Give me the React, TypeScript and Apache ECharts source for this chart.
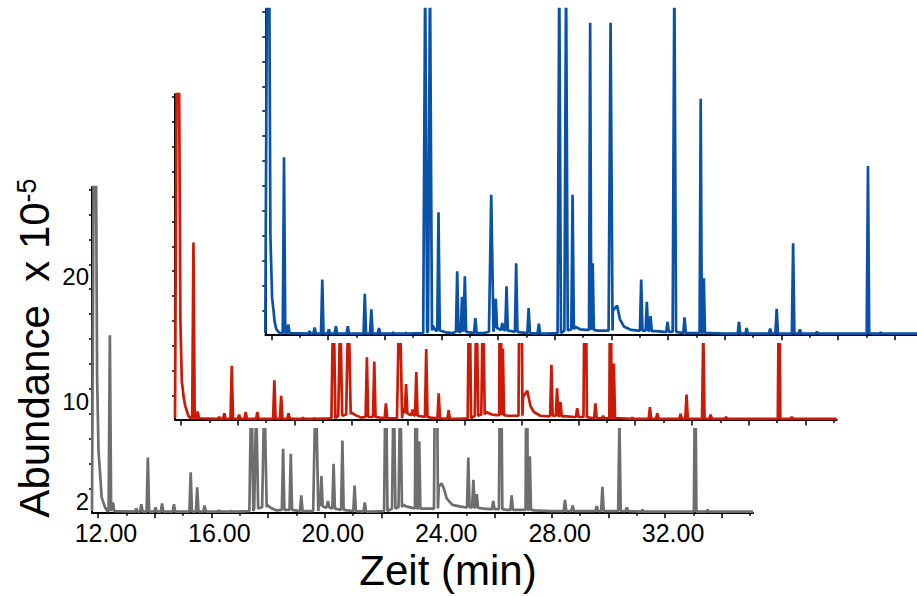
import React, { useEffect, useRef } from "react";
import * as echarts from "echarts";

// ---- axis settings (minutes, abundance x 10^-5) ----
const TIME_MIN = 11.79;
const TIME_MAX = 35.1;
const TIME_MAX_BACK = 34.78; // back chart runs off the right edge of the picture
const ABUND_MIN = 1.1;
const ABUND_MAX = 27.2;
const X_LABELS = [12, 16, 20, 24, 28, 32];
const X_MAJOR_TICKS = [12, 14, 16, 18, 20, 22, 24, 26, 28, 30, 32, 34];
const X_MINOR_TICKS = [13, 15, 17, 19, 21, 23, 25, 27, 29, 31, 33, 35];
const Y_LABELS = [2, 10, 20];
const Y_TICKS = [3, 5, 7, 9, 11, 13, 15, 17, 19, 21, 23, 25, 27];

// ---- grey trace (front) : peaks [time, apex, base, halfWidth?] and baseline knots [time, value] ----
const greyPeaks = [
  [12.42, 15.3, 1.2], [12.53, 1.9, 1.2], [13.35, 1.4, 1.15], [13.53, 1.75, 1.15], [13.76, 5.5, 1.15],
  [14.03, 1.5, 1.15], [14.26, 1.8, 1.15], [14.68, 1.75, 1.15], [15.27, 4.3, 1.15], [15.5, 3.1, 1.15],
  [15.76, 1.65, 1.15], [16.26, 1.25, 1.15], [16.7, 1.2, 1.15], [17.41, 12, 1.2, 0.07], [17.58, 10, 1.4, 0.07],
  [17.87, 11, 1.5, 0.08], [18.53, 6.2, 1.3], [18.8, 5.8, 1.3], [19.17, 2.45, 1.2], [19.68, 12, 1.2, 0.09],
  [19.88, 4.0, 1.6], [20.11, 2.0, 1.5], [20.31, 5.0, 1.4], [20.62, 6.85, 1.3], [21.05, 3.25, 1.2],
  [21.41, 1.9, 1.15], [22.15, 14, 1.2, 0.06], [22.43, 12, 1.4, 0.06], [22.66, 12, 1.5, 0.06],
  [23.22, 26, 1.4, 0.04], [23.33, 6.8, 1.4, 0.04], [23.92, 26, 1.4, 0.07], [25.06, 5.5, 1.5],
  [25.24, 3.7, 1.5], [25.36, 2.55, 1.45], [25.94, 2.0, 1.35], [26.2, 20, 1.35, 0.06], [26.59, 2.45, 1.3],
  [27.12, 20, 1.3, 0.04], [27.23, 5.6, 1.3, 0.04], [28.47, 2.1, 1.2], [28.74, 1.65, 1.2], [29.59, 1.6, 1.2],
  [29.79, 3.15, 1.2], [30.39, 8.4, 1.2], [30.65, 1.5, 1.2], [31.2, 1.3, 1.15], [33.06, 14.5, 1.15],
  [33.5, 1.3, 1.15],
];
const greyBase = [
  [11.79, 1.2], [11.85, 30], [11.93, 30], [11.97, 12], [12.02, 6], [12.07, 4.4], [12.13, 2.3], [12.25, 1.5],
  [12.33, 1.2], [16.9, 1.15], [17.96, 1.7], [18.1, 1.45], [18.3, 1.25], [19.5, 1.2], [19.8, 2.2], [20.0, 1.5],
  [20.2, 1.45], [20.45, 1.35], [20.8, 1.25], [21.7, 1.15], [22.75, 1.7], [22.9, 1.55], [23.1, 1.45],
  [23.5, 1.4], [23.8, 1.4], [24.02, 3.2], [24.12, 3.4], [24.2, 3.0], [24.3, 2.2], [24.5, 1.7], [24.8, 1.55],
  [24.98, 1.5], [25.6, 1.4], [25.85, 1.35], [26.05, 1.35], [26.4, 1.3], [26.8, 1.3], [27.4, 1.25],
  [28.0, 1.2], [31.6, 1.15], [35.1, 1.15],
];

// ---- red trace (middle) ----
const redPeaks = [
  [12.44, 15.3, 1.2], [12.59, 1.75, 1.2], [13.35, 1.3, 1.15], [13.53, 1.6, 1.15], [13.79, 5.4, 1.15],
  [14.05, 1.5, 1.15], [14.28, 1.7, 1.15], [14.69, 1.7, 1.15], [15.29, 4.25, 1.15], [15.53, 3.0, 1.15],
  [15.79, 1.6, 1.15], [16.3, 1.25, 1.15], [16.7, 1.2, 1.15], [17.37, 12, 1.2, 0.07], [17.61, 10, 1.4, 0.07],
  [17.9, 11, 1.5, 0.08], [18.55, 6.1, 1.3], [18.81, 5.75, 1.3], [19.22, 2.4, 1.2], [19.7, 12, 1.2, 0.09],
  [19.93, 3.95, 1.6], [20.16, 1.9, 1.45], [20.29, 4.9, 1.4], [20.64, 6.75, 1.3], [21.08, 3.2, 1.2],
  [21.43, 1.85, 1.15], [22.16, 14, 1.2, 0.06], [22.41, 12, 1.4, 0.06], [22.64, 12, 1.5, 0.06],
  [23.25, 26, 1.45, 0.04], [23.34, 6.8, 1.45, 0.04], [23.96, 26, 1.4, 0.07], [25.05, 5.5, 1.4],
  [25.25, 3.6, 1.4], [25.37, 2.5, 1.35], [25.96, 2.0, 1.3], [26.24, 20, 1.3, 0.06], [26.6, 2.4, 1.2],
  [26.87, 1.4, 1.2], [27.13, 20, 1.2, 0.04], [27.25, 5.6, 1.2, 0.04], [27.9, 1.25, 1.15], [28.52, 2.1, 1.15],
  [28.78, 1.6, 1.15], [29.6, 1.55, 1.15], [29.81, 3.1, 1.15], [30.4, 8.4, 1.15], [30.66, 1.5, 1.15],
  [31.2, 1.3, 1.15], [33.07, 14.5, 1.15], [33.52, 1.3, 1.15],
];
const redBase = [
  [11.79, 1.2], [11.85, 30], [11.93, 30], [11.98, 9], [12.03, 4.2], [12.1, 2.8], [12.15, 2.2], [12.26, 1.4],
  [12.34, 1.2], [17.98, 1.7], [18.15, 1.45], [18.35, 1.25], [19.5, 1.2], [19.82, 2.0], [20.05, 1.5],
  [20.22, 1.45], [20.47, 1.35], [20.8, 1.25], [21.7, 1.15], [22.75, 1.7], [22.95, 1.5], [23.12, 1.45],
  [23.5, 1.4], [23.84, 1.4], [24.05, 2.9], [24.2, 3.4], [24.31, 2.2], [24.43, 1.7], [24.66, 1.4],
  [24.95, 1.35], [25.6, 1.35], [25.85, 1.3], [26.08, 1.3], [26.4, 1.25], [26.75, 1.2], [27.5, 1.2],
  [28.0, 1.15], [35.1, 1.15],
];

// ---- blue trace (back) ----
const bluePeaks = [
  [12.45, 15.3, 1.2], [12.6, 1.9, 1.2], [13.35, 1.35, 1.15], [13.53, 1.65, 1.15], [13.8, 5.5, 1.15],
  [14.03, 1.5, 1.15], [14.28, 1.75, 1.15], [14.7, 1.75, 1.15], [15.3, 4.35, 1.15], [15.53, 3.1, 1.15],
  [15.8, 1.6, 1.15], [16.3, 1.25, 1.15], [16.75, 1.2, 1.15], [17.43, 30, 1.2, 0.07], [17.6, 30, 1.4, 0.07],
  [17.9, 10.9, 1.4], [18.28, 1.25, 1.2], [18.56, 6.15, 1.3], [18.73, 4.1, 1.3], [18.83, 5.75, 1.3],
  [19.2, 2.4, 1.2], [19.76, 12.3, 1.3, 0.08], [19.92, 3.95, 1.6], [20.15, 2.0, 1.45], [20.3, 4.95, 1.4],
  [20.64, 6.8, 1.3], [21.08, 3.2, 1.2], [21.44, 1.95, 1.15], [22.16, 30, 1.2, 0.06], [22.4, 30, 1.4, 0.06],
  [22.63, 12.3, 1.5], [23.25, 26.1, 1.45, 0.04], [23.34, 6.8, 1.45, 0.04], [23.97, 26.1, 1.4, 0.07],
  [25.05, 5.5, 1.4], [25.25, 3.7, 1.4], [25.38, 2.55, 1.35], [25.98, 2.1, 1.3], [26.22, 30, 1.3, 0.06],
  [26.58, 2.45, 1.2], [27.15, 20.0, 1.2, 0.04], [27.26, 5.6, 1.2, 0.04], [28.5, 2.1, 1.15], [28.77, 1.6, 1.15],
  [29.6, 1.55, 1.15], [29.83, 3.15, 1.15], [30.41, 8.4, 1.15], [30.65, 1.5, 1.15], [31.25, 1.3, 1.15],
  [33.05, 14.6, 1.15], [33.5, 1.25, 1.15],
];
const blueBase = [
  [11.79, 1.2], [11.85, 30], [11.93, 30], [11.97, 9], [12.03, 4], [12.08, 3], [12.12, 2.1], [12.18, 1.5],
  [12.3, 1.2], [17.7, 1.8], [17.8, 1.4], [18.1, 1.3], [18.4, 1.2], [19.5, 1.2], [19.86, 2.0], [20.05, 1.5],
  [20.22, 1.45], [20.47, 1.35], [20.8, 1.25], [21.7, 1.15], [22.72, 1.7], [22.9, 1.5], [23.1, 1.45],
  [23.5, 1.4], [23.85, 1.4], [24.05, 3.0], [24.2, 3.4], [24.3, 2.3], [24.45, 1.7], [24.7, 1.45],
  [24.95, 1.4], [25.6, 1.35], [25.85, 1.3], [26.08, 1.3], [26.4, 1.25], [26.8, 1.2], [27.5, 1.2],
  [28.0, 1.15], [35.1, 1.15],
];

const DEFAULT_HALF_WIDTH = 0.045;

function buildTrace(peaks: number[][], base: number[][]) {
  const pts: number[][] = base.map((b) => [b[0], b[1]]);
  for (const p of peaks) {
    const hw = p[3] ?? DEFAULT_HALF_WIDTH;
    pts.push([p[0] - hw, p[2]], [p[0], p[1]], [p[0] + hw, p[2]]);
  }
  pts.sort((a, b) => a[0] - b[0]);
  return pts;
}

const FONT = "'Liberation Sans', Arial, Helvetica, sans-serif";

export default function App() {
  const ref = useRef<HTMLDivElement>(null);
  useEffect(() => {
    if (!ref.current) return;
    const chart = echarts.init(ref.current, null, { renderer: "svg" });

    const grids = [
      { left: 92, top: 187, width: 661, height: 325.3 },
      { left: 175, top: 94.2, width: 661.7, height: 325.3 },
      { left: 265.3, top: 9, width: 651.7, height: 325.3 },
    ];
    const timeMax = [TIME_MAX, TIME_MAX, TIME_MAX_BACK];
    const zAxis = [0, 4, 7];
    const zSeries = [2, 5, 8];
    const colors = ["#6e6e6e", "#cc1a06", "#0a52a8"];
    const traces = [
      buildTrace(greyPeaks, greyBase),
      buildTrace(redPeaks, redBase),
      buildTrace(bluePeaks, blueBase),
    ];

    const xAxes: any[] = [];
    const yAxes: any[] = [];
    grids.forEach((_, i) => {
      xAxes.push({
        type: "value",
        gridIndex: i,
        position: "bottom",
        min: TIME_MIN,
        max: timeMax[i],
        z: zAxis[i],
        axisLine: { show: true, onZero: false, lineStyle: { color: "#000", width: 2 } },
        axisTick: { show: true, customValues: X_MAJOR_TICKS, length: 6, lineStyle: { color: "#000", width: 1.5 } },
        axisLabel: {
          show: i === 0,
          customValues: X_LABELS,
          formatter: (v: number) => v.toFixed(2),
          fontSize: 25,
          fontFamily: FONT,
          color: "#000",
          margin: 8,
          padding: [0, 0, 0, 16],
        },
        splitLine: { show: false },
      });
      xAxes.push({
        type: "value",
        gridIndex: i,
        position: "bottom",
        min: TIME_MIN,
        max: timeMax[i],
        z: zAxis[i],
        axisLine: { show: false, onZero: false },
        axisTick: {
          show: true,
          customValues: X_MINOR_TICKS.filter((v) => v <= timeMax[i]),
          length: 3.5,
          lineStyle: { color: "#000", width: 1.5 },
        },
        axisLabel: { show: false },
        splitLine: { show: false },
      });
      yAxes.push({
        type: "value",
        gridIndex: i,
        position: "left",
        min: ABUND_MIN,
        max: ABUND_MAX,
        z: zAxis[i],
        axisLine: { show: true, onZero: false, lineStyle: { color: "#000", width: 2 } },
        axisTick: { show: true, customValues: Y_TICKS, length: 3, lineStyle: { color: "#000", width: 1.5 } },
        axisLabel: {
          show: i === 0,
          customValues: Y_LABELS,
          fontSize: 24,
          fontFamily: FONT,
          color: "#000",
          margin: 3,
        },
        splitLine: { show: false },
      });
    });

    const option: any = {
      animation: false,
      backgroundColor: "#ffffff",
      grid: grids.map((g) => ({ ...g, containLabel: false })),
      xAxis: xAxes,
      yAxis: yAxes,
      series: traces.map((data, i) => ({
        type: "line",
        xAxisIndex: i * 2,
        yAxisIndex: i,
        data,
        showSymbol: false,
        symbol: "none",
        clip: true,
        z: zSeries[i],
        lineStyle: { color: colors[i], width: 2.7 },
      })),
      graphic: [
        { type: "rect", z: 3, silent: true, shape: { x: 174, y: 0, width: 680, height: 428 }, style: { fill: "#ffffff" } },
        { type: "rect", z: 6, silent: true, shape: { x: 264, y: 0, width: 660, height: 343 }, style: { fill: "#ffffff" } },
        {
          type: "text",
          z: 10,
          x: 34,
          y: 348,
          rotation: Math.PI / 2,
          style: {
            text: "{a|Abundance  x 10}{b|-5}",
            align: "center",
            verticalAlign: "middle",
            fill: "#000",
            rich: {
              a: { fontSize: 42, fontFamily: FONT, fill: "#000" },
              b: { fontSize: 27, fontFamily: FONT, fill: "#000", verticalAlign: "top" },
            },
          },
        },
        {
          type: "text",
          z: 10,
          x: 448,
          y: 570,
          style: {
            text: "Zeit (min)",
            fontSize: 42,
            fontFamily: FONT,
            align: "center",
            verticalAlign: "middle",
            fill: "#000",
          },
        },
      ],
    };
    chart.setOption(option);
    return () => chart.dispose();
  }, []);
  return <div ref={ref} style={{ position: "fixed", left: 0, top: 0, width: 917, height: 596 }} />;
}
